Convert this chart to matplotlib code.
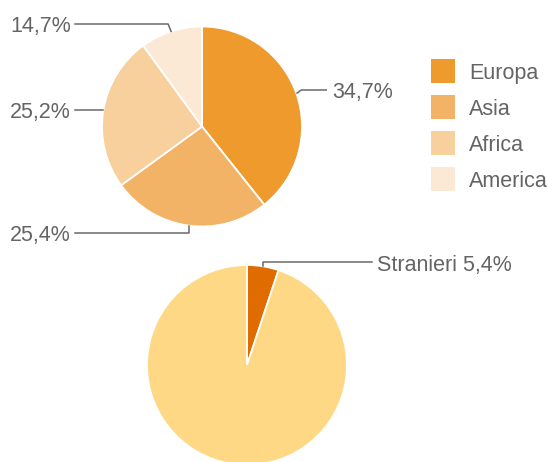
import numpy as np
import matplotlib
matplotlib.use("Agg")
import matplotlib.pyplot as plt
from matplotlib.patches import Rectangle

# ---- data ----
regions = ["Europa", "Asia", "Africa", "America"]
region_share = [39.3, 25.7, 25.0, 10.0]          # slice sizes as drawn
region_labels = ["34,7%", "25,4%", "25,2%", "14,7%"]  # printed labels
region_colors = ["#EF9A2D", "#F2B366", "#F7D09E", "#FCE9D5"]

pop_groups = ["Stranieri", "Italiani"]
pop_share = [5.1, 94.9]
pop_label = "Stranieri 5,4%"
pop_colors = ["#E06B00", "#FED885"]

W, H = 548, 462
TEXT = "#646464"
LINE = "#6A6A6A"
FS = 15.5
plt.rcParams["font.family"] = ["Liberation Sans", "DejaVu Sans"]

fig = plt.figure(figsize=(W / 100, H / 100), dpi=100)
ax = fig.add_axes([0, 0, 1, 1])

def Y(y):  # image-down pixel -> data
    return H - y

R = 100
c1 = (202, Y(126.5))
c2 = (247, Y(365))

w1, _ = ax.pie(region_share, colors=region_colors, startangle=90, counterclock=False,
               center=c1, radius=R, wedgeprops=dict(edgecolor="white", linewidth=1.3))
w2, _ = ax.pie(pop_share, colors=pop_colors, startangle=90, counterclock=False,
               center=c2, radius=R, wedgeprops=dict(edgecolor="white", linewidth=1.3))

def anchor(w, c):
    t = np.deg2rad((w.theta1 + w.theta2) / 2)
    return c[0] + R * np.cos(t), c[1] + R * np.sin(t)

cap = 0.716 * FS * 100 / 72 / 2

def label(text, x, ly, ha):
    ax.text(x, Y(ly) - cap, text, ha=ha, va="baseline", fontsize=FS, color=TEXT)

# Europa (34,7%)
ax_, ay_ = anchor(w1[0], c1)
ax.plot([ax_, ax_ + 5, 327], [ay_, Y(90), Y(90)], color=LINE, lw=1.1, solid_capstyle="butt")
label(region_labels[0], 332, 90, "left")
# Asia (25,4%)
ax_, ay_ = anchor(w1[1], c1)
ax.plot([ax_, ax_, 75], [ay_, Y(233), Y(233)], color=LINE, lw=1.1)
label(region_labels[1], 71, 233, "right")
# Africa (25,2%)
ax_, ay_ = anchor(w1[2], c1)
ax.plot([ax_, 75], [Y(110), Y(110)], color=LINE, lw=1.1)
label(region_labels[2], 71, 110, "right")
# America (14,7%)
ax_, ay_ = anchor(w1[3], c1)
ax.plot([ax_, ax_ - 3, 75], [ay_, Y(24), Y(24)], color=LINE, lw=1.1)
label(region_labels[3], 71, 24, "right")
# Stranieri
ax_, ay_ = anchor(w2[0], c2)
ax.plot([ax_, ax_, 372], [ay_, Y(262), Y(262)], color=LINE, lw=1.1)
label(pop_label, 377, 263, "left")

# legend
for i, (name, col) in enumerate(zip(regions, region_colors)):
    top = 59 + 36 * i
    ax.add_patch(Rectangle((431, Y(top + 24)), 24, 24, facecolor=col, edgecolor="none"))
    label(name, 469, top + 12, "left")

ax.set_xlim(0, W)
ax.set_ylim(0, H)
ax.set_aspect("auto")
ax.axis("off")
fig.savefig("out.png", dpi=100)
